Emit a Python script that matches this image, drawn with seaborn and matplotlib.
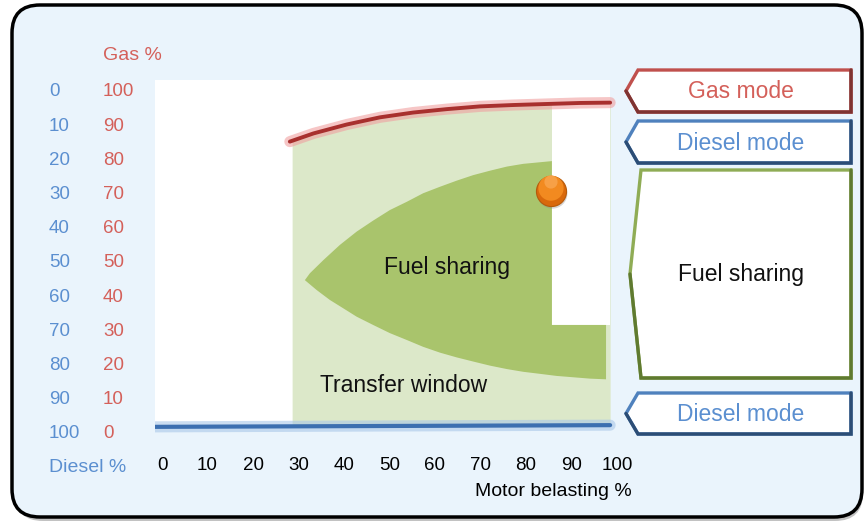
import numpy as np
import seaborn as sns
from matplotlib import pyplot as plt
from matplotlib.patches import FancyBboxPatch, Polygon, Rectangle

sns.set_style("white")
plt.rcParams['font.family'] = ['Liberation Sans', 'DejaVu Sans']

# axis ticks
load_ticks = [0, 10, 20, 30, 40, 50, 60, 70, 80, 90, 100]
gas_ticks = [0, 10, 20, 30, 40, 50, 60, 70, 80, 90, 100]
diesel_ticks = [0, 10, 20, 30, 40, 50, 60, 70, 80, 90, 100]

# gas mode line (top)
gas_mode_x = [28.1, 33.3, 40.6, 47.9, 55.2, 62.6, 69.9, 77.2, 84.5, 91.9, 98.5]
gas_mode_y = [84.9, 87.3, 89.9, 92.0, 93.4, 94.4, 95.2, 95.6, 95.9, 96.2, 96.3]

# diesel mode line (bottom)
diesel_mode_x = [-2.6, 98.5]
diesel_mode_y = [1.5, 2.0]

# fuel sharing area boundaries
share_upper_x = [31.4, 32.5, 35.5, 39.1, 42.8, 46.4, 50.1, 53.8, 57.4, 61.1, 64.8, 68.4,
                 72.1, 75.8, 79.4, 85.7]
share_upper_y = [44.4, 46.4, 50.3, 54.7, 58.6, 61.8, 64.9, 67.3, 69.8, 71.7, 73.5, 75.1,
                 76.4, 77.6, 78.4, 79.2]
share_lower_x = [31.4, 34.0, 36.9, 39.8, 42.8, 46.4, 50.1, 53.8, 57.4, 61.1, 64.8, 68.4,
                 72.1, 75.8, 79.4, 83.1, 86.7, 90.4, 94.1, 97.6]
share_lower_y = [44.4, 41.5, 38.6, 36.2, 33.7, 31.3, 28.9, 26.9, 24.9, 23.2, 21.8, 20.6,
                 19.4, 18.4, 17.6, 17.0, 16.4, 16.0, 15.6, 15.4]
share_step_y = 31.3
window_left_x = 28.6
window_right_x = 98.5

# operating point
point_x = [85.5]
point_y = [70.5]

RED = '#d4605a'
BLUE = '#5b8fd0'
LIGHT_GREEN = '#dce8c9'
MID_GREEN = '#a9c46c'
BG = '#eaf4fc'

fig = plt.figure(figsize=(8.66, 5.22), dpi=100)

# background / frame in pixel coordinates
bg = fig.add_axes([0, 0, 1, 1])
bg.set_xlim(0, 866)
bg.set_ylim(522, 0)
bg.axis('off')
bg.add_patch(FancyBboxPatch((15, 8), 848, 513, boxstyle="round,pad=0,rounding_size=28",
                            fc='#9a9a9a', ec='none', alpha=0.6))
bg.add_patch(FancyBboxPatch((12, 5), 850, 512, boxstyle="round,pad=0,rounding_size=28",
                            fc=BG, ec='black', lw=2.5))


def mode_box(top, bottom, tip_x, corner_x, edge, dark, label, color):
    mid = (top + bottom) / 2
    pts = [(tip_x, mid), (corner_x, top), (851, top), (851, bottom), (corner_x, bottom)]
    bg.add_patch(Polygon([(x + 2, y + 2) for x, y in pts], closed=True, fc='#c8cdd2', ec='none'))
    bg.add_patch(Polygon(pts, closed=True, fc='white', ec=edge, lw=2.4, joinstyle='miter'))
    bg.plot([851, 851, corner_x, tip_x], [top, bottom, bottom, mid], color=dark, lw=2.4,
            solid_joinstyle='miter')
    bg.text(741, mid + 1, label, ha='center', va='center', fontsize=16.5, color=color)


mode_box(70, 112, 626, 638, '#c0504d', '#7e3432', 'Gas mode', RED)
mode_box(121, 163, 626, 638, '#4f81bd', '#2c4d75', 'Diesel mode', BLUE)
mode_box(170, 378, 630, 641, '#8fac55', '#5f7a30', 'Fuel sharing', '#111111')
mode_box(393, 434, 626, 638, '#4f81bd', '#2c4d75', 'Diesel mode', BLUE)

bg.text(103, 55, 'Gas %', ha='left', va='center', fontsize=14, color=RED)
bg.text(49, 467, 'Diesel %', ha='left', va='center', fontsize=14, color=BLUE)
bg.text(632, 492, 'Motor belasting %', ha='right', va='center', fontsize=14, color='black')

# chart
ax = fig.add_axes([0.1792, 0.1626, 0.5411, 0.6847])
ax.set_facecolor('none')
ax.set_xlim(-1.5, 101.5)
ax.set_ylim(-1.5, 103)
for s in ax.spines.values():
    s.set_visible(False)

ax.add_patch(Rectangle((-1.8, 2.0), 100.3, 100.9, fc='white', ec='none', zorder=0.5))

# transfer window (light green), cut out above the step on the right
ax.fill_between([window_left_x] + gas_mode_x[1:], diesel_mode_y[1] - 0.3,
                [gas_mode_y[0]] + gas_mode_y[1:], color=LIGHT_GREEN, lw=0, zorder=1)
ax.add_patch(Rectangle((share_upper_x[-1], share_step_y), window_right_x - share_upper_x[-1],
                       102.9 - share_step_y, fc='white', ec='none', zorder=1.5))

# fuel sharing
share_x = share_upper_x + [share_upper_x[-1], share_lower_x[-1]] + share_lower_x[::-1]
share_y = share_upper_y + [share_step_y, share_step_y] + share_lower_y[::-1]
ax.fill(share_x, share_y, color=MID_GREEN, lw=0, zorder=2)

# mode lines with glow
sns.lineplot(x=gas_mode_x, y=gas_mode_y, ax=ax, color='#f0a0a0', lw=8, alpha=0.6, zorder=3)
sns.lineplot(x=gas_mode_x, y=gas_mode_y, ax=ax, color='#a8302e', lw=2.8, zorder=4)
sns.lineplot(x=diesel_mode_x, y=diesel_mode_y, ax=ax, color='#a9c7e8', lw=8, alpha=0.6, zorder=3)
sns.lineplot(x=diesel_mode_x, y=diesel_mode_y, ax=ax, color='#3c6fb0', lw=3, zorder=4)

# operating point
sns.scatterplot(x=[point_x[0] + 0.3], y=[point_y[0] - 0.8], ax=ax, s=470, color='#8a8a8a',
                edgecolor='none', alpha=0.35, zorder=5)
sns.scatterplot(x=point_x, y=point_y, ax=ax, s=470, color='#d9690c', edgecolor='#b65a0a',
                linewidth=0.8, zorder=5)
sns.scatterplot(x=point_x, y=[point_y[0] + 0.8], ax=ax, s=330, color='#f28a20', edgecolor='none', zorder=6)
sns.scatterplot(x=point_x, y=[point_y[0] + 2.6], ax=ax, s=90, color='#fbb060', edgecolor='none',
                alpha=0.6, zorder=7)

ax.text(62.6, 48.0, 'Fuel sharing', ha='center', va='center', fontsize=16.5, color='#111111', zorder=8)
ax.text(34.7, 13.5, 'Transfer window', ha='left', va='center', fontsize=16.5, color='#111111', zorder=8)

# ticks
ax.set_xticks(load_ticks)
ax.set_xticklabels([str(v) for v in load_ticks])
ax.tick_params(axis='x', length=0, pad=14.5, labelsize=13.5, labelcolor='black')
ax.set_yticks(gas_ticks)
ax.set_yticklabels([str(v) for v in gas_ticks])
ax.tick_params(axis='y', length=0, pad=37.6, labelsize=13.5, labelcolor=RED)
for t in ax.get_yticklabels():
    t.set_ha('left')

sec = ax.secondary_yaxis('left', functions=(lambda g: 100 - g, lambda d: 100 - d))
sec.set_yticks(diesel_ticks)
sec.set_yticklabels([str(v) for v in diesel_ticks])
sec.tick_params(axis='y', length=0, pad=76.5, labelsize=13.5, labelcolor=BLUE)
sec.spines['left'].set_visible(False)
for t in sec.get_yticklabels():
    t.set_ha('left')

plt.savefig('out.png', dpi=100)
plt.close()
